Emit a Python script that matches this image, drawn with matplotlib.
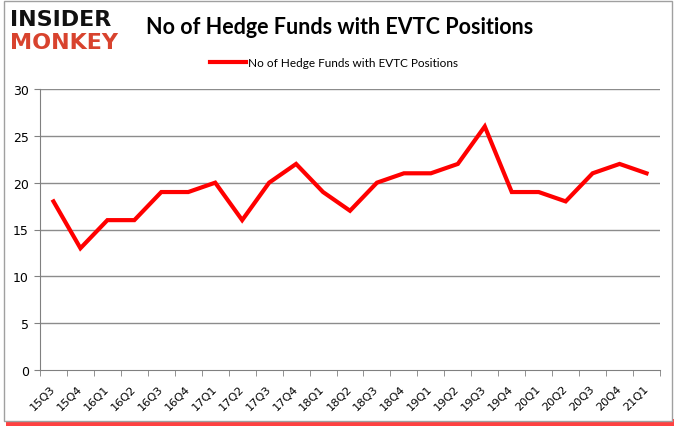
import matplotlib
matplotlib.use("Agg")
import matplotlib.pyplot as plt
from matplotlib.patches import Rectangle
from matplotlib.transforms import ScaledTranslation

quarters = ["15Q3","15Q4","16Q1","16Q2","16Q3","16Q4","17Q1","17Q2","17Q3","17Q4",
            "18Q1","18Q2","18Q3","18Q4","19Q1","19Q2","19Q3","19Q4","20Q1","20Q2",
            "20Q3","20Q4","21Q1"]
funds = [18,13,16,16,19,19,20,16,20,22,19,17,20,21,21,22,26,19,19,18,21,22,21]
yticks = [0,5,10,15,20,25,30]

W, H = 678, 431
fig = plt.figure(figsize=(W/100, H/100), dpi=100)
fig.patch.set_facecolor("white")

# frame with red shadow
fig.add_artist(Rectangle((6/W, 1 - 427/H), 668/W, 7/H, transform=fig.transFigure,
                         facecolor="#ff2020", edgecolor="none", alpha=0.85, zorder=-3))
fig.add_artist(Rectangle((4/W, 1 - 422/H), 668/W, 420/H, transform=fig.transFigure,
                         facecolor="white", edgecolor="#a0a0a0", lw=1, zorder=-2))

ax = fig.add_axes([40/W, 1 - 371/H, 620/W, 281/H])
ax.set_facecolor("none")
x = list(range(len(quarters)))
ax.plot(x, funds, color="#ff0000", lw=3, solid_joinstyle="miter",
        label="No of Hedge Funds with EVTC Positions", zorder=3)
ax.set_xlim(-0.5, len(quarters) - 0.5)
ax.set_ylim(0, 30)
ax.set_yticks(yticks)
ax.set_yticklabels([str(v) for v in yticks], fontsize=9, fontfamily="DejaVu Sans")
ax.set_xticks(x)
ax.set_xticklabels(quarters, rotation=45, fontsize=8.2, fontfamily="DejaVu Sans",
                   ha="right", va="center", rotation_mode="anchor")
for lbl in ax.get_xticklabels():
    lbl.set_transform(lbl.get_transform() + ScaledTranslation(-2/100, 0, fig.dpi_scale_trans))
ax.set_xticks([i - 0.5 for i in range(len(quarters) + 1)], minor=True)
ax.tick_params(axis="x", which="major", length=0, pad=12)
ax.tick_params(axis="x", which="minor", length=4, color="#808080", direction="out")
ax.tick_params(axis="y", length=4, color="#808080", direction="out", pad=4)
for v in yticks[1:]:
    ax.axhline(v, color="#8c8c8c", lw=1, zorder=0)
for s in ["top", "right"]:
    ax.spines[s].set_visible(False)
ax.spines["left"].set_color("#808080")
ax.spines["bottom"].set_color("#808080")

fig.text(340/W, 1 - 27/H, "No of Hedge Funds with EVTC Positions", fontsize=15.5,
         fontweight="bold", fontfamily="Lato", ha="center", va="center")
leg = ax.legend(loc="upper center", bbox_to_anchor=((342 - 40 - 8)/620, (371 - 53)/281),
                frameon=False, handlelength=3, handletextpad=0.2, borderaxespad=0,
                prop={"family": "Lato", "size": 8.5})

fig.text(10/W, 1 - 20/H, "INSIDER", fontsize=16, fontweight="bold", color="#111111",
         ha="left", va="center")
fig.text(10/W, 1 - 43/H, "MONKEY", fontsize=16, fontweight="bold", color="#d8432e",
         ha="left", va="center")

fig.savefig("out.png", dpi=100)
